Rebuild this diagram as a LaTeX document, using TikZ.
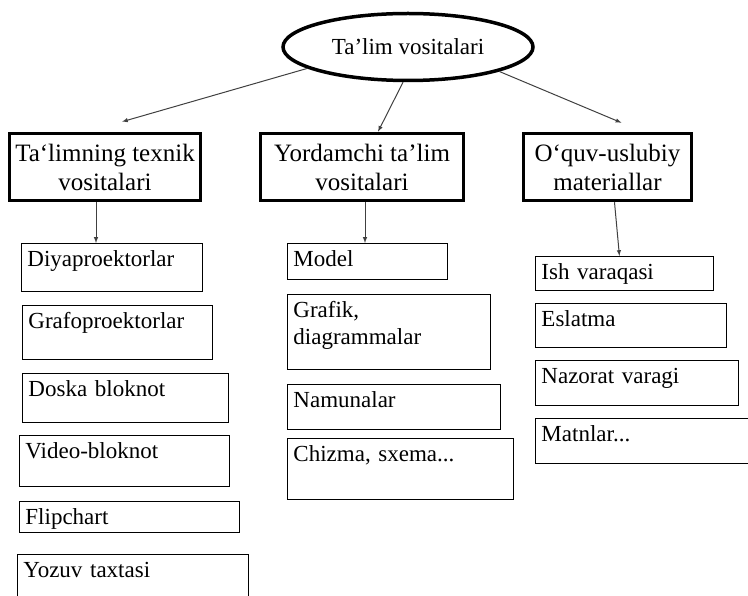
\documentclass[tikz,border=0pt]{standalone}
\usepackage{fontspec}
\setmainfont{Liberation Serif}
\usetikzlibrary{shapes.geometric,positioning}
\tikzset{>=latex}

\begin{document}
\begin{tikzpicture}[x=1pt,y=-1pt,
  every node/.style={font=\fontsize{23}{27}\selectfont},
  head/.style={draw,line width=3.5pt,ellipse,minimum width=250,minimum height=67,inner sep=0pt},
  group/.style={draw,line width=3.5pt,minimum height=67,align=center,inner sep=0pt,font=\fontsize{25}{29}\selectfont},
  item/.style n args={2}{draw,line width=0.9pt,anchor=north west,align=left,inner xsep=6pt,inner ysep=3pt,text height=20pt,text width=#1,text depth=#2},
  link/.style={->,draw=black!75,line width=1pt}]
\useasboundingbox (0,0) rectangle (748,596);
% top
\node[head] (ell) at (408,47) {Ta’lim vositalari};
\node[group,minimum width=191] (tex) at (105,167) {Ta‘limning texnik\\vositalari};
\node[group,minimum width=203] (yord) at (362,167) {Yordamchi ta’lim\\vositalari};
\node[group,minimum width=168] (oquv) at (607.5,167) {O‘quv-uslubiy\\materiallar};
% left column
\node[item={169}{22}] (diya) at (21,243) {Diyaproektorlar};
\node[item={178}{28}] (grafo) at (22,305) {Grafoproektorlar};
\node[item={194}{23}] (doska) at (22,373) {Doska bloknot};
\node[item={198}{25}] (video) at (19,435) {Video-bloknot};
\node[item={208}{5}] (flip) at (19,501) {Flipchart};
\node[item={219}{20}] (yozuv) at (17,554) {Yozuv taxtasi};
% middle column
\node[item={148}{10}] (model) at (287,243) {Model};
\node[item={191}{49}] (grafik) at (287,294) {Grafik,\\diagrammalar};
\node[item={201}{19}] (namun) at (287,384) {Namunalar};
\node[item={214}{35}] (chizma) at (287,438) {Chizma, sxema...};
% right column
\node[item={166}{8}] (ish) at (535,256) {Ish varaqasi};
\node[item={179}{18}] (eslat) at (535,303) {Eslatma};
\node[item={191}{19}] (nazorat) at (535,360) {Nazorat varagi};
\node[item={208}{19}] (matn) at (535,418) {Matnlar...};
% connectors
\draw[link] (ell.192) -- ([xshift=17pt,yshift=10pt]tex.north);
\draw[link] (ell.262) -- ([xshift=16pt]yord.north);
\draw[link] (ell.345) -- ([xshift=14pt,yshift=9pt]oquv.north);
\coordinate (texfoot) at ([xshift=-9pt]tex.south);
\coordinate (yordfoot) at ([xshift=3pt]yord.south);
\draw[link] (texfoot) -- (texfoot |- diya.north);
\draw[link] (yordfoot) -- (yordfoot |- model.north);
\draw[link] ([xshift=7pt]oquv.south) -- ([xshift=-5pt]ish.north);
\end{tikzpicture}
\end{document}
